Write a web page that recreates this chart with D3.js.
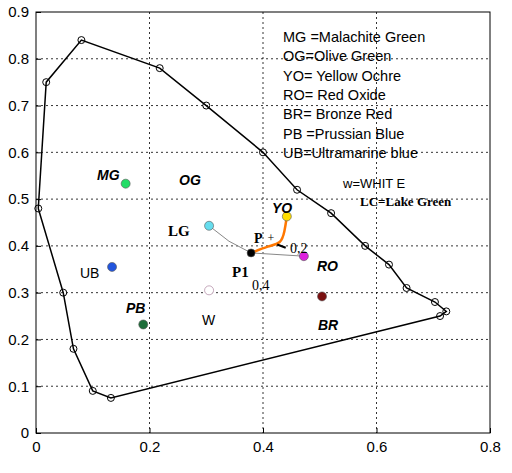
<!DOCTYPE html><html><head><script src="https://d3js.org/d3.v7.min.js"></script>
<style>body{margin:0;background:#fff}</style></head><body><svg id="c" width="512" height="473"></svg>
<script>
const xTicks=[0,0.2,0.4,0.6,0.8];
const yTicks=[0,0.1,0.2,0.3,0.4,0.5,0.6,0.7,0.8,0.9];
const locus=[[0.004,0.48],[0.018,0.75],[0.08,0.84],[0.218,0.78],[0.30,0.70],[0.40,0.60],[0.46,0.52],[0.52,0.47],[0.58,0.40],[0.622,0.36],[0.653,0.31],[0.703,0.28],[0.723,0.26],[0.712,0.25],[0.132,0.075],[0.10,0.09],[0.066,0.18],[0.048,0.30],[0.004,0.48]];
const pigments=["MG","UB","PB","LG","W","YO","P1","RO","BR"];
const pigX=[0.158,0.134,0.189,0.305,0.305,0.442,0.379,0.472,0.504];
const pigY=[0.533,0.355,0.232,0.443,0.305,0.463,0.385,0.378,0.292];
const pigC=["#22dd66","#2255dd","#1e6e3a","#66ddee","#fff","#ffdd00","#000","#dd22dd","#7a1010"];
const orange=[[0.379,0.385],[0.41,0.400],[0.432,0.405],[0.438,0.43],[0.442,0.463]];
const gray1=[[0.305,0.443],[0.34,0.41],[0.379,0.385]];
const gray2=[[0.379,0.385],[0.472,0.378]];
const legend=["MG =Malachite Green","OG=Olive Green","YO= Yellow Ochre","RO= Red Oxide","BR= Bronze Red","PB =Prussian Blue","UB=Ultramarine blue"];
const svg=d3.select("#c");
const x=d3.scaleLinear([0,0.8],[36,490]);
const y=d3.scaleLinear([0,0.9],[433,12]);
svg.append("rect").attr("x",36).attr("y",12).attr("width",454).attr("height",421).attr("fill","#fff").attr("stroke","#000");
xTicks.slice(1,-1).forEach(t=>svg.append("line").attr("x1",x(t)).attr("x2",x(t)).attr("y1",12).attr("y2",433).attr("stroke","#000").attr("stroke-dasharray","2,3").attr("stroke-width",0.8));
yTicks.slice(1,-1).forEach(t=>svg.append("line").attr("y1",y(t)).attr("y2",y(t)).attr("x1",36).attr("x2",490).attr("stroke","#000").attr("stroke-dasharray","2,3").attr("stroke-width",0.8));
const fx=d3.format(".1f");
svg.append("g").attr("transform","translate(0,433)").call(d3.axisBottom(x).tickValues(xTicks).tickFormat(d=>d===0?"0":fx(d)).tickSize(-5).tickPadding(8)).call(g=>{g.select(".domain").remove();g.selectAll("text").attr("font-family","Arial").attr("font-size",15);});
svg.append("g").attr("transform","translate(36,0)").call(d3.axisLeft(y).tickValues(yTicks).tickFormat(d=>d===0?"0":fx(d)).tickSize(-5).tickPadding(7)).call(g=>{g.select(".domain").remove();g.selectAll("text").attr("font-family","Arial").attr("font-size",15);});
const ln=d3.line().x(d=>x(d[0])).y(d=>y(d[1]));
svg.append("path").attr("d",ln(locus)).attr("fill","none").attr("stroke","#000").attr("stroke-width",1.5);
svg.selectAll(".lc").data(locus.slice(0,-1)).join("circle").attr("cx",d=>x(d[0])).attr("cy",d=>y(d[1])).attr("r",3.5).attr("fill","none").attr("stroke","#000");
svg.append("path").attr("d",ln(gray1)).attr("fill","none").attr("stroke","#888");
svg.append("path").attr("d",ln(gray2)).attr("fill","none").attr("stroke","#888");
svg.append("path").attr("d",d3.line().curve(d3.curveBasis).x(d=>x(d[0])).y(d=>y(d[1]))(orange)).attr("fill","none").attr("stroke","#ff7700").attr("stroke-width",2.5);
svg.append("line").attr("x1",x(0.425)).attr("y1",y(0.403)).attr("x2",x(0.44)).attr("y2",y(0.396)).attr("stroke","#000").attr("stroke-width",2);
svg.selectAll(".pg").data(pigments).join("circle").attr("cx",(d,i)=>x(pigX[i])).attr("cy",(d,i)=>y(pigY[i])).attr("r",(d,i)=>d==="P1"?4:4.5).attr("fill",(d,i)=>pigC[i]).attr("stroke",(d,i)=>d==="W"?"#a07090":"#555").attr("stroke-width",0.6);
svg.append("text").attr("x",x(0.414)).attr("y",y(0.417)+4).attr("text-anchor","middle").attr("font-size",12).text("+");
const lab=(t,px,py,o={})=>svg.append("text").attr("x",px).attr("y",py).attr("font-family",o.f||"Arial").attr("font-size",o.s||14).attr("font-style",o.i?"italic":"normal").attr("font-weight",o.b?"bold":"normal").text(t);
lab("MG",97,180,{i:1,b:1});lab("OG",179,185,{i:1,b:1});lab("YO",272,213,{i:1,b:1});lab("RO",317,271,{i:1,b:1});lab("BR",318,330,{i:1,b:1});lab("PB",126,313,{i:1,b:1});
lab("UB",80,278);lab("W",202,325);
lab("LG",168,236,{f:"Liberation Serif",b:1,s:15});lab("P1",232,277,{f:"Liberation Serif",b:1,s:15});lab("0,4",252,290,{f:"Liberation Serif",s:14});lab("P",254,243,{f:"Liberation Serif",b:1,s:14});lab("0,2",290,253,{f:"Liberation Serif",s:14});
legend.forEach((t,i)=>lab(t,283,42+i*19.3,{s:14.5}));
lab("w=WHIT E",343,188,{s:13});lab("LC=Lake Green",360,206,{f:"Liberation Serif",b:1,s:13});
</script></body></html>
